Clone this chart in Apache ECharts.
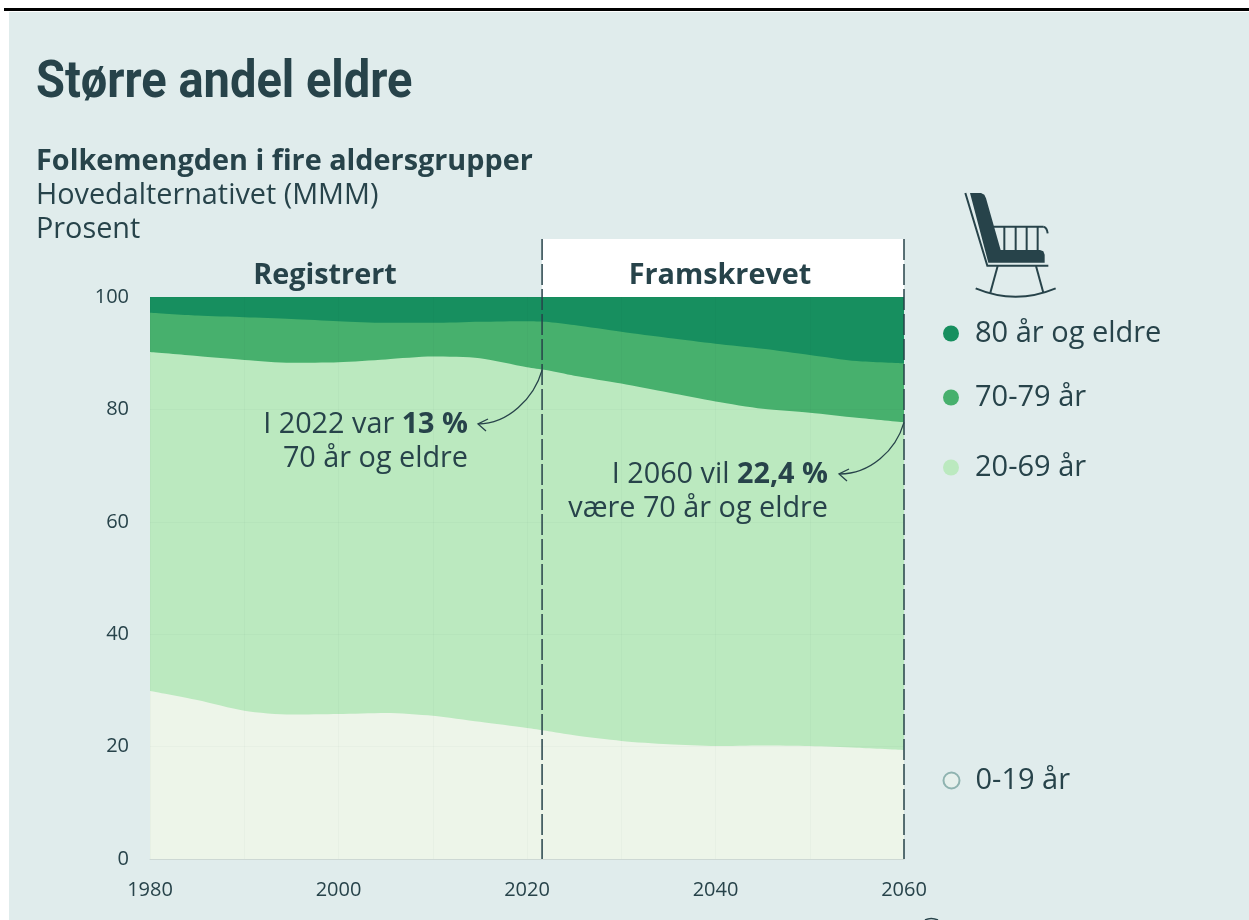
<!DOCTYPE html>
<html><head><meta charset="utf-8">
<style>html,body{margin:0;padding:0;background:#fff}#c{width:1249px;height:920px}</style>
<script src="https://cdn.jsdelivr.net/npm/echarts@6/dist/echarts.min.js"></script>
</head><body><div id="c"></div>
<script>
const years=[1980,1985,1990,1995,2000,2005,2010,2015,2020,2022,2025,2030,2035,2040,2045,2050,2055,2060];
const age0_19=[29.9,28.3,26.4,25.7,25.8,26.0,25.5,24.4,23.3,22.8,22.0,21.0,20.4,20.1,20.2,20.1,19.8,19.4];
const age20_69=[60.3,61.2,62.4,62.6,62.6,62.9,63.9,64.7,64.2,64.2,64.0,63.6,62.6,61.3,59.9,59.3,58.7,58.3];
const age70_79=[7.0,7.2,7.6,7.8,7.3,6.5,6.0,6.5,8.2,8.6,9.0,9.2,9.7,10.3,10.7,10.3,10.1,10.5];
const age80=[2.8,3.3,3.6,3.9,4.3,4.6,4.6,4.4,4.3,4.4,5.0,6.2,7.3,8.3,9.2,10.3,11.4,11.8];
const seriesNames=['0-19 år','20-69 år','70-79 år','80 år og eldre'];
const seriesColors=['#edf5e9','#bbe9bf','#47b06d','#178f5f'];
const INK='#27434a',FONT='"Open Sans"',GRID='rgba(0,60,40,0.025)';
const chart=echarts.init(document.getElementById('c'),null,{renderer:'canvas'});
const groups=[age0_19,age20_69,age70_79,age80];
// Cumulative tops of each band; bands are painted from the top band downwards.
const cumulative=i=>years.map((y,k)=>{let s=0;for(let j=0;j<=i;j++)s+=groups[j][k];return [y,+s.toFixed(2)];});
const mkSeries=i=>({name:seriesNames[i],type:'line',data:cumulative(i),smooth:0.25,symbol:'none',
  lineStyle:{width:0},areaStyle:{color:seriesColors[i],opacity:1,origin:'start'},itemStyle:{color:seriesColors[i]},z:2});
const legendAt=(n,top,i)=>({show:true,left:i===0?942.5:943,top:top,orient:'vertical',selectedMode:false,icon:'circle',itemWidth:16,itemHeight:16,itemGap:0,
  padding:0,data:[{name:n,itemStyle:i===0?{color:'#e6f0ec',borderColor:'#8fb3b0',borderWidth:2}:{color:seriesColors[i]}}],
  textStyle:{color:INK,fontFamily:FONT,fontSize:29,padding:[4,0,0,11]}});
chart.setOption({
  animation:false,backgroundColor:'transparent',
  grid:{left:150,top:297,width:754,height:562},
  xAxis:{type:'value',min:1980,max:2060,interval:20,z:3,
    axisLine:{show:true,onZero:false,lineStyle:{color:'#cdd8d4',width:1}},axisTick:{show:false},
    axisLabel:{color:INK,fontFamily:FONT,fontSize:20,margin:21,formatter:v=>String(v),showMinLabel:true,showMaxLabel:true},
    splitLine:{show:true,lineStyle:{color:GRID,width:1}},
    minorTick:{show:false,splitNumber:2},minorSplitLine:{show:true,lineStyle:{color:GRID,width:1}}},
  yAxis:{type:'value',min:0,max:100,interval:20,z:3,
    axisLine:{show:false},axisTick:{show:false},
    axisLabel:{color:INK,fontFamily:FONT,fontSize:20,margin:21},
    splitLine:{show:true,lineStyle:{color:GRID,width:1}}},
  legend:[legendAt(seriesNames[3],319,3),legendAt(seriesNames[2],383,2),legendAt(seriesNames[1],453,1),legendAt(seriesNames[0],766,0)],
  series:[mkSeries(3),mkSeries(2),mkSeries(1),mkSeries(0)],
  graphic:{elements:[]}
});
const P=(x,y)=>chart.convertToPixel({gridIndex:0},[x,y]);
const lineYear=2021.6, endYear=2060;
const [xa,y0]=P(lineYear,0), [xb]=P(endYear,0), [,y100]=P(1980,100);
const TOP=239;
const [,ya]=P(lineYear,87.0), [,yb]=P(endYear,77.7);
const F='28.8px "Open Sans"',FB='bold 28.8px "Open Sans"';
const T=(x,y,text,o)=>({type:'text',z:20,x,y,style:Object.assign({text,fill:INK,font:F,align:'left',verticalAlign:'middle'},o||{})});
const dash=x=>({type:'line',z:15,shape:{x1:x,y1:TOP,x2:x,y2:y0},style:{stroke:INK,lineWidth:1.5,lineDash:[21,4]}});
const stroke=(w)=>({fill:'none',stroke:INK,lineWidth:w});
const arrow=(sx,sy,c1x,c1y,c2x,c2y,tx,ty,b1x,b1y,b2x,b2y)=>[
  {type:'bezierCurve',z:16,shape:{x1:sx,y1:sy,cpx1:c1x,cpy1:c1y,cpx2:c2x,cpy2:c2y,x2:tx,y2:ty},style:stroke(1.3)},
  {type:'polyline',z:16,shape:{points:[[b1x,b1y],[tx,ty],[b2x,b2y]]},style:stroke(1.3)}
];
const L=(x1,y1,x2,y2)=>({type:'line',shape:{x1,y1,x2,y2},style:stroke(6)});
const chairChildren=[
  {type:'polygon',shape:{points:[[270,69],[303,69],[313,74],[318,85],[362,240],[480,240],[490,244],[494,254],[494,278],[325,278]]},style:{fill:INK}},
  {type:'polyline',shape:{points:[[256,69],[322,287],[505,287]]},style:stroke(6)},
  L(340,170,490,170),
  {type:'bezierCurve',shape:{x1:490,y1:170,cpx1:501,cpy1:172,x2:503,y2:190},style:stroke(6)},
  L(373,170,373,240),L(407,170,407,240),L(440,170,440,240),L(473,170,473,240),
  L(353,288,331,368),L(468,288,490,368),
  {type:'bezierCurve',shape:{x1:287,y1:355,cpx1:407,cpy1:405,x2:527,y2:355},style:stroke(6)}
];
const rich={r:{font:F,fill:INK},b:{font:FB,fill:INK}};
chart.setOption({graphic:{elements:[
  {type:'rect',z:-10,silent:true,shape:{x:9,y:12,width:1240,height:908},style:{fill:'#e0ecec'}},
  {type:'rect',z:-9,silent:true,shape:{x:4,y:8,width:1245,height:3},style:{fill:'#000'}},
  {type:'rect',z:-8,silent:true,shape:{x:xa,y:TOP,width:xb-xa,height:y100-TOP},style:{fill:'#fff'}},
  Object.assign(T(36,84,'Større andel eldre',{font:'bold 52px Roboto'}),{scaleX:0.904,originX:0}),
  T(36,162,'Folkemengden i fire aldersgrupper',{font:FB}),
  T(36,196,'Hovedalternativet (MMM)'),
  T(36,230,'Prosent'),
  T(325,276,'Registrert',{font:FB,align:'center'}),
  T(720,276,'Framskrevet',{font:FB,align:'center'}),
  dash(xa),dash(xb),
  T(468,425,'{r|I 2022 var }{b|13 %}',{align:'right',rich}),
  T(468,459,'70 år og eldre',{align:'right'}),
  T(828,475,'{r|I 2060 vil }{b|22,4 %}',{align:'right',rich}),
  T(828,509,'være 70 år og eldre',{align:'right'}),
  ...arrow(xa,ya,xa-8,ya+28,xa-34,ya+54,478,424,488,419,486,431),
  ...arrow(xb,yb,xb-8,yb+28,xb-34,yb+52,839,474,849,469,847,481),
  {type:'bezierCurve',z:16,shape:{x1:925,y1:920,cpx1:931,cpy1:917,x2:938,y2:920},style:stroke(1.5)},
  {type:'group',z:14,x:880,y:170,scaleX:1/3,scaleY:1/3,children:chairChildren}
]}});
</script></body></html>
